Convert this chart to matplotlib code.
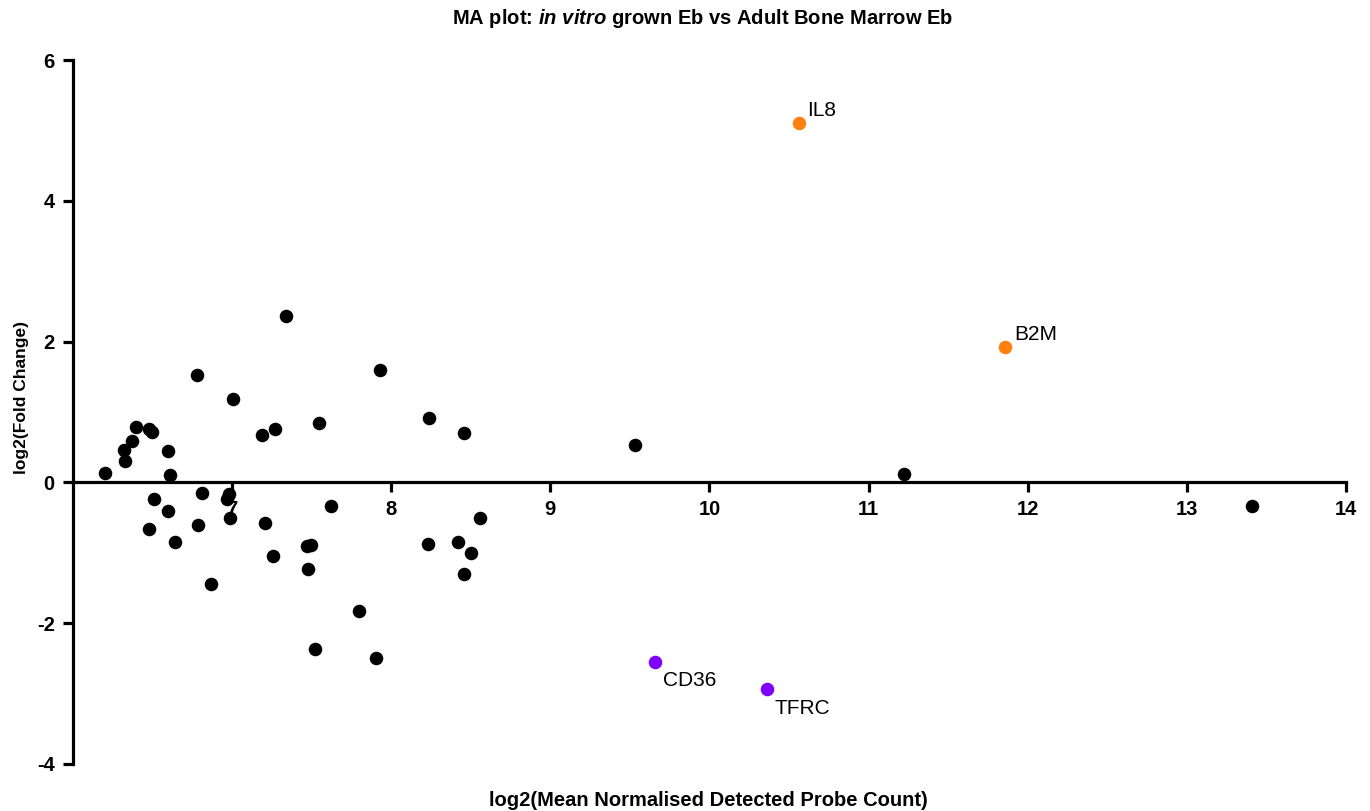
import matplotlib
matplotlib.use("Agg")
from matplotlib import pyplot as plt

plt.rcParams['font.family'] = ['Liberation Sans', 'DejaVu Sans']
plt.rcParams['mathtext.fontset'] = 'custom'
plt.rcParams['mathtext.rm'] = 'Liberation Sans:bold'
plt.rcParams['mathtext.it'] = 'Liberation Sans:italic:bold'
plt.rcParams['axes.unicode_minus'] = False

# genes without a label (black)
x_other = [6.20, 6.325, 6.33, 6.37, 6.40, 6.48, 6.50, 6.60, 6.61, 6.51, 6.60, 6.48,
           6.64, 6.78, 6.81, 6.79, 6.87, 6.98, 6.97, 6.99, 7.005, 7.19, 7.27, 7.34,
           7.205, 7.26, 7.55, 7.62, 7.47, 7.50, 7.48, 7.93, 7.80, 7.52, 7.905, 8.24,
           8.46, 8.56, 8.23, 8.42, 8.50, 8.46, 9.53, 11.225, 13.41]
y_other = [0.14, 0.46, 0.31, 0.59, 0.78, 0.76, 0.72, 0.45, 0.10, -0.24, -0.40, -0.66,
           -0.85, 1.52, -0.15, -0.60, -1.44, -0.16, -0.24, -0.51, 1.19, 0.67, 0.76, 2.37,
           -0.57, -1.05, 0.85, -0.33, -0.91, -0.89, -1.23, 1.59, -1.82, -2.37, -2.49, 0.91,
           0.70, -0.50, -0.87, -0.84, -1.00, -1.30, 0.53, 0.12, -0.34]

# up-regulated (orange)
up_genes = ['IL8', 'B2M']
x_up = [10.56, 11.86]
y_up = [5.10, 1.92]

# down-regulated (purple)
down_genes = ['CD36', 'TFRC']
x_down = [9.66, 10.364]
y_down = [-2.545, -2.94]

xticks = [7, 8, 9, 10, 11, 12, 13, 14]
yticks = [-4, -2, 0, 2, 4, 6]

fig = plt.figure(figsize=(13.70, 8.11), dpi=100)
ax = fig.add_axes([0.0531, 0.058, 0.9294, 0.868])

ms = 95
ax.scatter(x_other, y_other, s=ms, color='black', zorder=4, clip_on=False, linewidths=0)
ax.scatter(x_up, y_up, s=ms, color='#FF7F0F', zorder=4, clip_on=False, linewidths=0)
ax.scatter(x_down, y_down, s=ms, color='#7F00FF', zorder=4, clip_on=False, linewidths=0)

for g, x, y in zip(up_genes, x_up, y_up):
    ax.annotate(g, (x, y), xytext=(6, 9.5), textcoords='offset points',
                fontsize=15, va='center', ha='left')
for g, x, y in zip(down_genes, x_down, y_down):
    ax.annotate(g, (x, y), xytext=(5.5, -13.5), textcoords='offset points',
                fontsize=15, va='center', ha='left')

ax.set_xlim(6, 14)
ax.set_ylim(-4, 6)
ax.set_xticks(xticks)
ax.set_yticks(yticks)

ax.spines['top'].set_visible(False)
ax.spines['right'].set_visible(False)
ax.spines['bottom'].set_position(('data', 0))
for s in ['left', 'bottom']:
    ax.spines[s].set_linewidth(2.3)
    ax.spines[s].set_zorder(3)
ax.tick_params(axis='both', width=2.3, length=7, direction='out', labelsize=14.5, pad=6)
for lab in ax.get_xticklabels() + ax.get_yticklabels():
    lab.set_fontweight('bold')

fig.text(0.513, 1 - 19 / 811, r"MA plot: $\it{in\ vitro}$ grown Eb vs Adult Bone Marrow Eb",
         ha='center', va='center', fontsize=14.5, fontweight='bold')
fig.text(0.517, 1 - 800 / 811, "log2(Mean Normalised Detected Probe Count)",
         ha='center', va='center', fontsize=14.5, fontweight='bold')
fig.text(22 / 1370, 1 - 398 / 811, "log2(Fold Change)", rotation=90,
         ha='center', va='center', fontsize=12.5, fontweight='bold')

fig.savefig('out.png', dpi=100)
